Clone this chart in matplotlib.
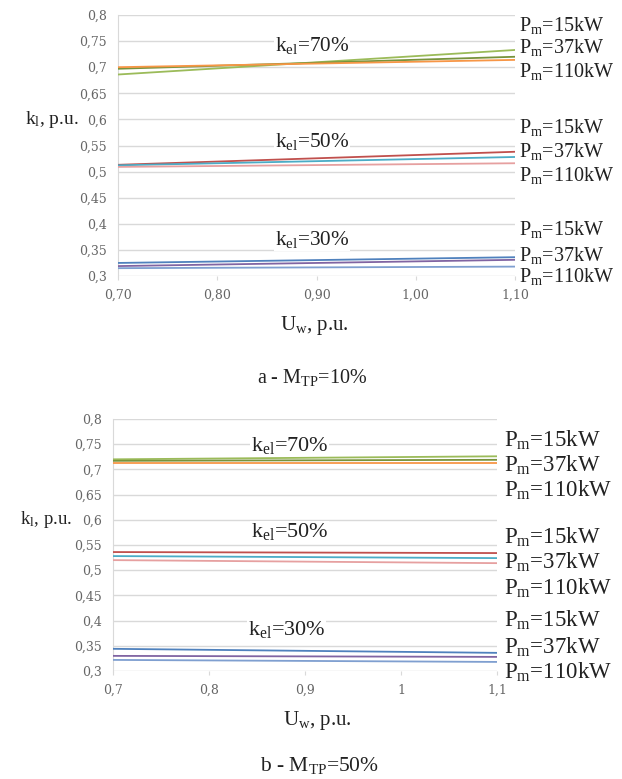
import numpy as np
import matplotlib
matplotlib.use("Agg")
import matplotlib.pyplot as plt
from matplotlib.ticker import FuncFormatter, MultipleLocator

plt.rcParams['font.family'] = ['Liberation Serif', 'DejaVu Serif']
plt.rcParams['mathtext.fontset'] = 'custom'
plt.rcParams['mathtext.rm'] = 'Liberation Serif'

# voltage, p.u.
uw = [0.7, 1.1]

# panel a - M_TP = 10 %
a_kel70 = {"15": [0.686, 0.733], "37": [0.697, 0.720], "110": [0.700, 0.714]}
a_kel50 = {"15": [0.513, 0.538], "37": [0.512, 0.528], "110": [0.509, 0.516]}
a_kel30 = {"15": [0.325, 0.336], "37": [0.319, 0.331], "110": [0.315, 0.318]}

# panel b - M_TP = 50 %
b_kel70 = {"15": [0.720, 0.726], "37": [0.717, 0.719], "110": [0.712, 0.712]}
b_kel50 = {"15": [0.536, 0.534], "37": [0.528, 0.524], "110": [0.520, 0.514]}
b_kel30 = {"15": [0.344, 0.336], "37": [0.330, 0.328], "110": [0.322, 0.318]}

powers = ["15", "37", "110"]
colors = {
    70: ["#9BBB59", "#77933C", "#F79646"],
    50: ["#C0504D", "#4BACC6", "#E6A0A0"],
    30: ["#4F81BD", "#8064A2", "#7F9FD0"],
}

W, H = 622, 779
fig = plt.figure(figsize=(W / 100, H / 100), dpi=100)


def px(x, y):
    return x / W, 1 - y / H


def comma(fmt):
    return FuncFormatter(lambda v, p: (fmt % v).replace('.', ','))


def panel(rect, groups, xfmt, kel_pos, kel_fs, pm_x, pm_y, pm_fs,
          ylab, xlab, cap, caption):
    ax = fig.add_axes(rect)
    for kel, data in groups:
        for i, p in enumerate(powers):
            ax.plot(uw, data[p], color=colors[kel][i], lw=1.3, zorder=3)
    ax.set_xlim(0.7, 1.1)
    ax.set_ylim(0.3, 0.8)
    ax.yaxis.set_major_locator(MultipleLocator(0.05))
    ax.xaxis.set_major_locator(MultipleLocator(0.1))
    ax.yaxis.set_major_formatter(comma('%g'))
    ax.xaxis.set_major_formatter(comma(xfmt))
    ax.grid(axis='y', color='#D9D9D9', lw=1)
    ax.set_axisbelow(True)
    for s in ['top', 'right', 'bottom']:
        ax.spines[s].set_visible(False)
    ax.spines['left'].set_color('#D9D9D9')
    ax.tick_params(axis='y', length=0, labelsize=9, labelcolor='#666666', pad=8)
    ax.tick_params(axis='x', length=3, color='#D9D9D9', labelsize=9,
                   labelcolor='#666666', pad=6)
    for lab in ax.get_xticklabels() + ax.get_yticklabels():
        lab.set_family('DejaVu Serif')
    for (kel, _), (x, y) in zip(groups, kel_pos):
        ax.text(x, y, r'k$\mathregular{_{el}}$=%d%%' % kel, fontsize=kel_fs,
                ha='center', va='center', color='#222222', zorder=2,
                bbox=dict(facecolor='white', edgecolor='none', pad=0.5))
    for yy in pm_y:
        for p, y in zip(powers, yy):
            fig.text(*px(pm_x, y), r'P$\mathregular{_m}$=%skW' % p, fontsize=pm_fs,
                     ha='left', va='center', color='#222222')
    fig.text(*px(ylab[0], ylab[1]), r'k$\mathregular{_l}$, p.u.', fontsize=ylab[2],
             ha='center', va='center', color='#222222')
    fig.text(*px(xlab[0], xlab[1]), r'U$\mathregular{_w}$, p.u.',
             fontsize=15, ha='center', va='center', color='#222222')
    fig.text(*px(cap[0], cap[1]), caption, fontsize=cap[2], ha='center',
             va='center', color='#222222')
    return ax


panel([118 / W, 1 - 276 / H, 397 / W, 261 / H],
      [(70, a_kel70), (50, a_kel50), (30, a_kel30)], '%.2f',
      [(0.8955, 0.741), (0.8955, 0.557), (0.8955, 0.369)], 15.3,
      519, [(25, 48, 72), (127, 152, 175), (230, 255, 277)], 14.5,
      (52, 119, 14), (314, 325), (312, 377, 14.5), r'a - M$\mathregular{_{TP}}$=10%')

panel([113 / W, 1 - 671 / H, 384 / W, 252 / H],
      [(70, b_kel70), (50, b_kel50), (30, b_kel30)], '%g',
      [(0.884, 0.748), (0.884, 0.576), (0.881, 0.383)], 16,
      504, [(440, 465, 490), (537, 562, 588), (620, 647, 672)], 16.5,
      (46, 519, 13.5), (317, 721), (319, 766, 15.5), r'b - M$\mathregular{_{TP}}$=50%')

fig.savefig('out.png', dpi=100)
